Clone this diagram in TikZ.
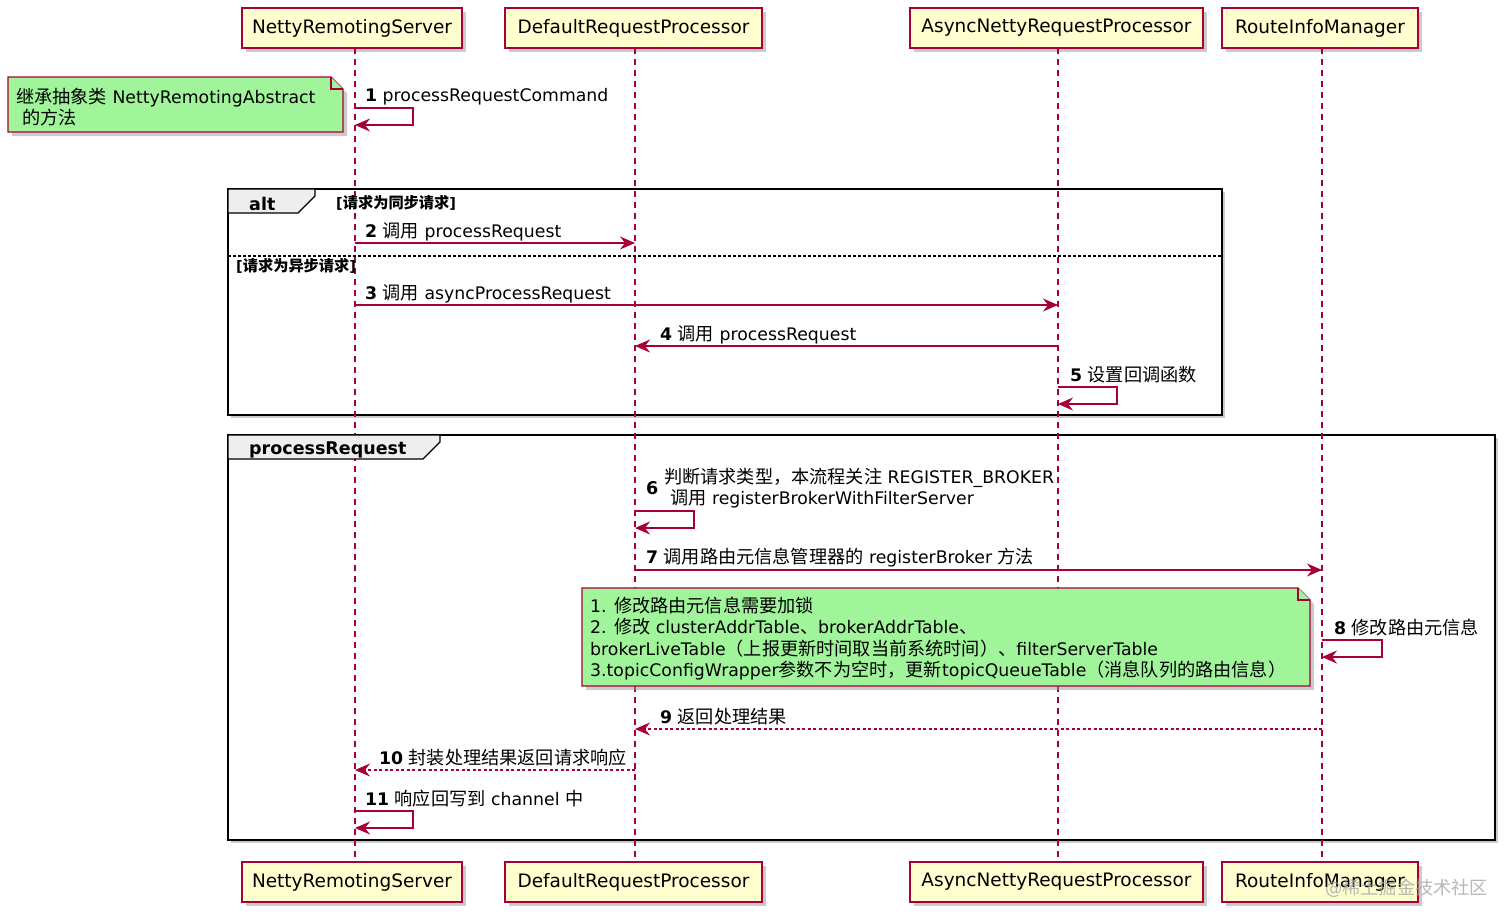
\documentclass[tikz,border=0pt]{standalone}
\usepackage{fontspec}
\setmainfont{DejaVu Sans}
\newfontfamily\zh[Scale=1.05]{Noto Sans CJK SC}
\usetikzlibrary{arrows.meta,shadows}
\definecolor{pb}{HTML}{A80036}
\definecolor{pf}{HTML}{FEFECE}
\definecolor{ng}{HTML}{A0F59B}
\definecolor{tabfill}{HTML}{EEEEEE}
\newcommand\ptext[1]{\raisebox{-2pt}{#1}}
\begin{document}
\begin{tikzpicture}[x=1pt,y=-1pt,
  font=\fontsize{17.3}{21.5}\selectfont,
  part/.style={draw=pb, fill=pf, line width=1.4pt, minimum height=40pt, inner sep=0pt,
    font=\fontsize{18.5}{22}\selectfont,
    drop shadow={shadow xshift=4pt,shadow yshift=-4pt,fill=black!40,opacity=.5}},
  life/.style={draw=pb, line width=1.3pt, dash pattern=on 6pt off 5pt},
  msg/.style={draw=pb, line width=1.3pt, -{Stealth[length=15pt,width=13pt,inset=5pt]}},
  ret/.style={msg, dash pattern=on 3pt off 2.5pt},
  lbl/.style={anchor=west, inner sep=0pt, text=black, yshift=-1.5pt},
  frm/.style={draw=black, line width=2.4pt, fill=white,
    drop shadow={shadow xshift=3pt,shadow yshift=-3pt,fill=black!40,opacity=.5}},
  tab/.style={draw=black, line width=1.3pt, fill=tabfill},
  notebox/.style={draw=pb, fill=ng, line width=1.2pt,
    drop shadow={shadow xshift=4pt,shadow yshift=-4pt,fill=black!40,opacity=.5}},
  fold/.style={draw=pb, line width=1.2pt, fill=ng},
  guard/.style={anchor=west, inner sep=0pt, yshift=-1pt, font=\fontsize{14.5}{17}\selectfont\bfseries}
]
\useasboundingbox (0,0) rectangle (1512,922);
\fill[white] (0,0) rectangle (1512,922);

% frames
\path[frm] (228,189) rectangle (1222,415);
\path[frm] (228,435) rectangle (1495,840);

% participants
\node[part, minimum width=220pt] (p1t) at (352,28) {\ptext{NettyRemotingServer}};
\node[part, minimum width=257pt] (p2t) at (633.5,28) {\ptext{DefaultRequestProcessor}};
\node[part, minimum width=293pt] (p3t) at (1056.5,28) {\ptext{AsyncNettyRequestProcessor}};
\node[part, minimum width=196pt] (p4t) at (1320,28) {\ptext{RouteInfoManager}};
\node[part, minimum width=220pt] (p1b) at (352,882) {\ptext{NettyRemotingServer}};
\node[part, minimum width=257pt] (p2b) at (633.5,882) {\ptext{DefaultRequestProcessor}};
\node[part, minimum width=293pt] (p3b) at (1056.5,882) {\ptext{AsyncNettyRequestProcessor}};
\node[part, minimum width=196pt] (p4b) at (1320,882) {\ptext{RouteInfoManager}};

% lifelines
\draw[life] (355,48) coordinate (l1t) -- (355,862) coordinate (l1b);
\draw[life] (635,48) coordinate (l2t) -- (635,862) coordinate (l2b);
\draw[life] (1058,48) coordinate (l3t) -- (1058,862) coordinate (l3b);
\draw[life] (1322,48) coordinate (l4t) -- (1322,862) coordinate (l4b);

% frame tabs and guards
\draw[tab] (228,189) -- (315,189) -- (315,196) -- (298,213) -- (228,213) -- cycle;
\node[lbl, font=\fontsize{17.5}{20}\selectfont\bfseries] (altlbl) at (249,202) {alt};
\node[guard] (g1) at (336,202) {[{\zh 请求为同步请求}]};
\draw[black, line width=1.2pt, dash pattern=on 2.5pt off 2.5pt] (228,256) -- (1222,256);
\node[guard] (g2) at (236,265) {[{\zh 请求为异步请求}]};
\draw[tab] (228,435) -- (440,435) -- (440,442) -- (423,459) -- (228,459) -- cycle;
\node[lbl, font=\fontsize{17.5}{20}\selectfont\bfseries] (prlbl) at (249,448) {processRequest};

% note 1
\path[notebox] (8,77) -- (331,77) -- (343,89) -- (343,132) -- (8,132) -- cycle;
\draw[fold] (331,77) -- (331,89) -- (343,89);
\node[lbl, align=left] (n1) at (16,105.5) {{\zh 继承抽象类} NettyRemotingAbstract\\\hspace{6pt}{\zh 的方法}};

% message 1
\node[lbl] (m1) at (365,95) {\textbf{1} processRequestCommand};
\coordinate (s1a) at (355,108); \coordinate (s1b) at (355,125);
\draw[msg] (s1a) -- ++(58,0) |- (s1b);

% message 2
\node[lbl] (m2) at (365,230) {\textbf{2} {\zh 调用} processRequest};
\draw[msg] (355,243) coordinate (a2) -- (635,243) coordinate (b2);

% message 3
\node[lbl] (m3) at (365,292) {\textbf{3} {\zh 调用} asyncProcessRequest};
\draw[msg] (355,305) coordinate (a3) -- (1058,305) coordinate (b3);

% message 4
\node[lbl] (m4) at (660,333) {\textbf{4} {\zh 调用} processRequest};
\draw[msg] (1058,346) coordinate (a4) -- (635,346) coordinate (b4);

% message 5
\node[lbl] (m5) at (1070,373) {\textbf{5} {\zh 设置回调函数}};
\coordinate (s5a) at (1058,387); \coordinate (s5b) at (1058,404);
\draw[msg] (s5a) -- ++(59,0) |- (s5b);

% message 6
\node[lbl, font=\fontsize{17.5}{20}\selectfont\bfseries] (m6n) at (646,487) {6};
\node[lbl, align=left] (m6) at (664,486.5) {{\zh 判断请求类型，本流程关注} REGISTER\_BROKER\\\hspace{6pt}{\zh 调用} registerBrokerWithFilterServer};
\coordinate (s6a) at (635,511); \coordinate (s6b) at (635,528);
\draw[msg] (s6a) -- ++(59,0) |- (s6b);

% message 7
\node[lbl] (m7) at (646,556) {\textbf{7} {\zh 调用路由元信息管理器的} registerBroker {\zh 方法}};
\draw[msg] (635,570) coordinate (a7) -- (1322,570) coordinate (b7);

% note 2
\path[notebox] (582,588) -- (1298,588) -- (1310,600) -- (1310,686) -- (582,686) -- cycle;
\draw[fold] (1298,588) -- (1298,600) -- (1310,600);
\node[lbl, align=left] (n2) at (590,637) {1. {\zh 修改路由元信息需要加锁}\\
2. {\zh 修改} clusterAddrTable{\zh 、}brokerAddrTable{\zh 、}\\
brokerLiveTable{\zh （上报更新时间取当前系统时间）、}filterServerTable\\
3.topicConfigWrapper{\zh 参数不为空时，更新}topicQueueTable{\zh （消息队列的路由信息）}};

% message 8
\node[lbl] (m8) at (1334,626) {\textbf{8} {\zh 修改路由元信息}};
\coordinate (s8a) at (1322,640); \coordinate (s8b) at (1322,657);
\draw[msg] (s8a) -- ++(60,0) |- (s8b);

% message 9
\node[lbl] (m9) at (660,715) {\textbf{9} {\zh 返回处理结果}};
\draw[ret] (1322,729) coordinate (a9) -- (635,729) coordinate (b9);

% message 10
\node[lbl] (m10) at (379,756) {\textbf{10} {\zh 封装处理结果返回请求响应}};
\draw[ret] (635,770) coordinate (a10) -- (355,770) coordinate (b10);

% message 11
\node[lbl] (m11) at (365,797) {\textbf{11} {\zh 响应回写到} channel {\zh 中}};
\coordinate (s11a) at (355,811); \coordinate (s11b) at (355,828);
\draw[msg] (s11a) -- ++(58,0) |- (s11b);

% watermark
\node[lbl, text=black!35, opacity=.8] (wm) at (1325,887) {@{\zh 稀土掘金技术社区}};
\end{tikzpicture}
\end{document}
